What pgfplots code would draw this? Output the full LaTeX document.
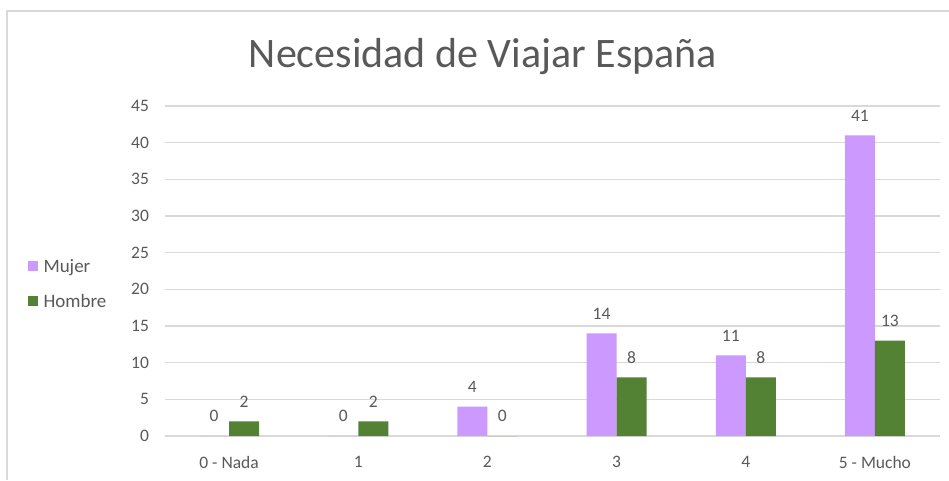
\documentclass[border=0pt]{standalone}
\usepackage{pgfplots}
\pgfplotsset{compat=1.18}
\usepackage{fontspec}
\setmainfont{Carlito}
\definecolor{mujer}{HTML}{CC99FF}
\definecolor{hombre}{HTML}{548235}
\definecolor{txt}{HTML}{595959}
\definecolor{gridc}{HTML}{D9D9D9}
\begin{document}
\begin{tikzpicture}[x=1pt,y=1pt]
\useasboundingbox (0,0) rectangle (949,480);
\draw[gridc, line width=1.5pt] (7,0) -- (7,469) -- (949,469);
\node[txt, font=\fontsize{42}{42}\selectfont] at (483,423) {Necesidad de Viajar España};
\begin{axis}[
  at={(164.5pt,44pt)}, anchor=south west,
  scale only axis, width=775pt, height=330pt,
  ybar=0pt, bar width=30pt,
  xmin=-0.5, xmax=5.5, ymin=0, ymax=45,
  xtick={0,1,2,3,4,5},
  xticklabels={0 - Nada,1,2,3,4,5 - Mucho},
  ytick={0,5,...,45},
  axis line style={draw=none},
  major tick length=0pt,
  ymajorgrids=true, xmajorgrids=false,
  major grid style={draw=gridc, line width=1.2pt},
  tick label style={txt, font=\fontsize{17.5}{17.5}\selectfont},
  /pgf/number format/assume math mode=true,
  yticklabel style={xshift=-12pt},
  xticklabel style={yshift=-17pt},
  nodes near coords,
  every node near coord/.append style={txt, font=\fontsize{17.5}{17.5}\selectfont, anchor=south, inner sep=0pt, yshift=14pt},
  legend style={at={(-0.177,0.462)}, anchor=west, draw=none, fill=none,
    font=\fontsize{19}{19}\selectfont, text=txt, row sep=21pt, inner sep=0pt,
    nodes={inner sep=0pt, text depth=0pt}},
  legend cell align=left,
  legend image code/.code={\fill[#1] (0pt,-5pt) rectangle (10pt,5pt); \path (16pt,0pt);},
]
\addplot[fill=mujer, draw=none] coordinates {(0,0) (1,0) (2,4) (3,14) (4,11) (5,41)};
\addplot[fill=hombre, draw=none] coordinates {(0,2) (1,2) (2,0) (3,8) (4,8) (5,13)};
\legend{Mujer,Hombre}
\end{axis}
\end{tikzpicture}
\end{document}
